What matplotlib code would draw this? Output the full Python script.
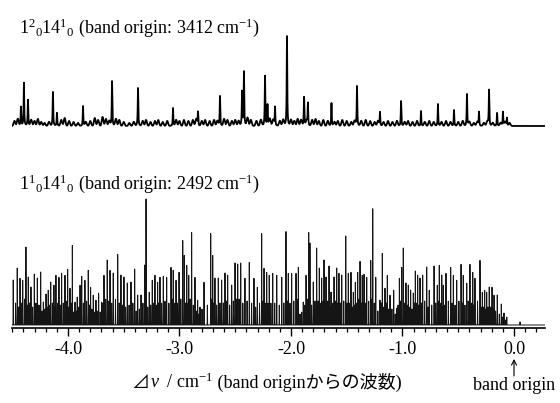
import numpy as np
import matplotlib
matplotlib.use('Agg')
import matplotlib.pyplot as plt

plt.rcParams['font.family'] = ['Liberation Serif', 'Noto Sans CJK JP', 'DejaVu Sans']
plt.rcParams['mathtext.fontset'] = 'custom'
plt.rcParams['mathtext.rm'] = 'Liberation Serif'
plt.rcParams['mathtext.it'] = 'Liberation Serif:italic'
plt.rcParams['axes.unicode_minus'] = False

# ---------------- data ----------------
upper_title = r"$\mathregular{1^{2}{}_{0}14^{1}{}_{0}}$ (band origin: 3412 cm$^{\mathregular{-1}}$)"
lower_title = r"$\mathregular{1^{1}{}_{0}14^{1}{}_{0}}$ (band origin: 2492 cm$^{\mathregular{-1}}$)"

tick_values = [-4.0, -3.0, -2.0, -1.0, 0.0]
tick_labels = ['-4.0', '-3.0', '-2.0', '-1.0', '0.0']

# upper spectrum (1^2_0 14^1_0): sharp lines
upper_pos = [-4.422, -4.395, -4.359, -4.135, -4.099, -3.865, -3.605, -3.372, -3.058,
             -2.834, -2.637, -2.439, -2.422, -2.233, -2.211, -2.143, -2.036, -1.883,
             -1.848, -1.637, -1.408, -1.202, -1.013, -0.834, -0.682, -0.538, -0.422,
             -0.314, -0.224, -0.152, -0.099, -0.063]
upper_int = [19, 43, 26, 34, 13, 20, 45, 38, 18,
             14, 30, 34, 54, 50, 21, 19, 90, 29,
             22, 23, 40, 14, 25, 15, 22, 16, 32,
             14, 36, 13, 14, 8]
# upper spectrum: weak background structure
upper_bg_pos = [-4.48, -4.45, -4.33, -4.30, -4.27, -4.24, -4.21, -4.17, -4.06, -4.03,
                -3.99, -3.95, -3.91, -3.84, -3.80, -3.76, -3.73, -3.69, -3.66, -3.63,
                -3.57, -3.54, -3.50, -3.45, -3.41, -3.33, -3.30, -3.26, -3.22, -3.19,
                -3.15, -3.11, -3.03, -3.00, -2.96, -2.92, -2.88, -2.85, -2.80, -2.77,
                -2.73, -2.69, -2.66, -2.60, -2.57, -2.53, -2.50, -2.47, -2.39, -2.36,
                -2.31, -2.27, -2.19, -2.16, -2.10, -2.07, -2.00, -1.97, -1.94, -1.91,
                -1.86, -1.81, -1.78, -1.75, -1.71, -1.67, -1.61, -1.58, -1.54, -1.50,
                -1.46, -1.43, -1.37, -1.33, -1.29, -1.25, -1.22, -1.17, -1.13, -1.09,
                -1.05, -0.98, -0.95, -0.91, -0.87, -0.80, -0.76, -0.72, -0.65, -0.61,
                -0.57, -0.50, -0.46, -0.40, -0.36, -0.33, -0.27, -0.24, -0.19, -0.12,
                -0.08, -0.04]
upper_bg_int = [5, 7, 6, 5, 7, 4, 3, 4, 6, 8,
                5, 4, 3, 4, 5, 8, 6, 9, 7, 5,
                7, 6, 4, 3, 4, 5, 6, 4, 5, 6,
                4, 5, 6, 5, 6, 5, 6, 7, 5, 6,
                5, 6, 5, 7, 6, 5, 6, 5, 8, 6,
                5, 6, 7, 6, 5, 6, 6, 5, 7, 6,
                5, 6, 7, 5, 6, 5, 4, 5, 6, 5,
                4, 5, 5, 6, 5, 4, 5, 4, 5, 4,
                5, 4, 5, 4, 5, 4, 5, 4, 4, 5,
                4, 4, 5, 4, 3, 4, 3, 4, 3, 3,
                4, 3]

# lower spectrum (1^1_0 14^1_0): strong lines
lower_pos = [-4.491, -4.455, -4.430, -4.406, -4.377, -4.356, -4.332, -4.302, -4.275, -4.245,
             -4.221, -4.197, -4.177, -4.155, -4.126, -4.108, -4.081, -4.057, -4.027, -4.003,
             -3.982, -3.961, -3.937, -3.917, -3.892, -3.877, -3.848, -3.818, -3.797, -3.773,
             -3.749, -3.725, -3.698, -3.677, -3.648, -3.623, -3.594, -3.554, -3.525, -3.498,
             -3.468, -3.435, -3.402, -3.375, -3.345, -3.312, -3.300, -3.271, -3.244, -3.220,
             -3.196, -3.175, -3.145, -3.115, -3.076, -3.056, -3.031, -3.004, -2.971, -2.957,
             -2.935, -2.917, -2.891, -2.861, -2.837, -2.816, -2.780, -2.720, -2.702, -2.682,
             -2.652, -2.622, -2.592, -2.568, -2.532, -2.502, -2.478, -2.451, -2.413, -2.374,
             -2.332, -2.302, -2.263, -2.242, -2.218, -2.195, -2.164, -2.128, -2.083, -2.045,
             -2.024, -1.994, -1.955, -1.934, -1.904, -1.890, -1.865, -1.841, -1.830, -1.800,
             -1.770, -1.746, -1.725, -1.704, -1.686, -1.659, -1.641, -1.614, -1.590, -1.570,
             -1.545, -1.509, -1.486, -1.462, -1.441, -1.423, -1.402, -1.381, -1.361, -1.345,
             -1.321, -1.285, -1.267, -1.240, -1.202, -1.181, -1.157, -1.136, -1.112, -1.079,
             -1.052, -1.028, -1.007, -0.993, -0.969, -0.948, -0.927, -0.903, -0.885, -0.864,
             -0.843, -0.819, -0.783, -0.760, -0.717, -0.688, -0.670, -0.648, -0.634, -0.610,
             -0.568, -0.544, -0.514, -0.475, -0.455, -0.424, -0.395, -0.370, -0.350, -0.305,
             -0.284, -0.263, -0.245, -0.222, -0.197, -0.179, -0.150, -0.114, -0.090, -0.065,
             0.054]
lower_int = [45, 57, 47, 45, 78, 48, 38, 51, 47, 53,
             23, 31, 35, 43, 40, 50, 48, 52, 50, 56,
             37, 80, 23, 28, 40, 49, 45, 55, 38, 30,
             25, 32, 23, 50, 65, 55, 52, 71, 50, 48,
             42, 43, 56, 30, 30, 60, 126, 33, 45, 50,
             43, 48, 49, 48, 58, 55, 45, 53, 85, 70,
             60, 50, 93, 48, 25, 18, 43, 92, 70, 47,
             47, 45, 52, 50, 40, 62, 61, 62, 47, 63,
             47, 38, 92, 57, 53, 50, 52, 50, 48, 94,
             52, 52, 52, 58, 13, 23, 50, 93, 82, 43,
             77, 57, 47, 65, 48, 59, 33, 48, 57, 52,
             50, 89, 52, 53, 33, 43, 53, 64, 50, 51,
             48, 65, 117, 48, 25, 72, 37, 50, 30, 35,
             17, 47, 58, 77, 42, 40, 35, 32, 54, 50,
             47, 50, 58, 35, 59, 40, 60, 50, 40, 52,
             58, 50, 45, 61, 50, 42, 61, 53, 47, 65,
             33, 35, 33, 38, 38, 30, 30, 21, 12, 8,
             3]
# lower spectrum: weaker lines filling the dense band
lower_weak_pos = [-4.470, -4.443, -4.418, -4.390, -4.366, -4.344, -4.317, -4.288, -4.260, -4.233,
                  -4.209, -4.187, -4.166, -4.140, -4.117, -4.094, -4.069, -4.042, -4.015, -3.992,
                  -3.972, -3.949, -3.927, -3.904, -3.862, -3.833, -3.807, -3.785, -3.761, -3.737,
                  -3.711, -3.688, -3.662, -3.636, -3.608, -3.574, -3.540, -3.511, -3.483, -3.452,
                  -3.418, -3.388, -3.360, -3.328, -3.285, -3.258, -3.232, -3.208, -3.186, -3.160,
                  -3.130, -3.095, -3.066, -3.043, -3.018, -2.988, -2.946, -2.926, -2.904, -2.876,
                  -2.849, -2.826, -2.798, -2.750, -2.711, -2.692, -2.667, -2.637, -2.607, -2.580,
                  -2.550, -2.517, -2.490, -2.465, -2.432, -2.394, -2.353, -2.317, -2.282, -2.252,
                  -2.230, -2.206, -2.180, -2.146, -2.105, -2.064, -2.034, -2.009, -1.975, -1.945,
                  -1.919, -1.877, -1.853, -1.815, -1.785, -1.758, -1.736, -1.714, -1.695, -1.672,
                  -1.650, -1.627, -1.602, -1.580, -1.557, -1.527, -1.497, -1.474, -1.452, -1.432,
                  -1.412, -1.391, -1.371, -1.353, -1.333, -1.303, -1.276, -1.253, -1.221, -1.191,
                  -1.169, -1.146, -1.124, -1.095, -1.065, -1.040, -1.017, -0.980, -0.958, -0.937,
                  -0.915, -0.894, -0.874, -0.853, -0.831, -0.801, -0.771, -0.738, -0.702, -0.679,
                  -0.659, -0.641, -0.622, -0.589, -0.556, -0.529, -0.494, -0.465, -0.440, -0.410,
                  -0.382, -0.360, -0.327, -0.295, -0.273, -0.254, -0.234, -0.210, -0.188, -0.165,
                  -0.132, -0.102, -0.078]
lower_weak_int = [22, 18, 22, 26, 20, 22, 18, 22, 20, 14,
                  16, 18, 20, 22, 18, 22, 20, 22, 24, 18,
                  22, 13, 14, 18, 22, 24, 20, 16, 13, 14,
                  13, 22, 26, 24, 22, 26, 22, 20, 18, 20,
                  22, 14, 16, 22, 18, 20, 22, 20, 22, 22,
                  24, 22, 26, 22, 22, 26, 22, 22, 26, 20,
                  14, 11, 16, 20, 26, 22, 20, 22, 22, 24,
                  20, 24, 26, 26, 22, 24, 22, 18, 22, 24,
                  22, 22, 22, 22, 20, 22, 24, 22, 24, 26,
                  11, 20, 26, 20, 24, 24, 22, 24, 22, 24,
                  18, 22, 24, 22, 22, 24, 22, 22, 18, 20,
                  22, 26, 22, 22, 22, 24, 26, 22, 14, 22,
                  18, 22, 16, 16, 11, 20, 24, 22, 20, 18,
                  16, 22, 22, 20, 22, 24, 18, 20, 22, 24,
                  22, 18, 20, 24, 22, 20, 24, 22, 20, 24,
                  22, 20, 24, 18, 18, 16, 18, 18, 16, 14,
                  11, 8, 5]

UPPER_OFFSET = 202
LOWER_OFFSET = 3

# ---------------- build traces ----------------
x = np.arange(-4.50, 0.30, 0.0003)
upper = np.full_like(x, UPPER_OFFSET, dtype=float)
for p, h in zip(upper_pos, upper_int):
    g = 0.0028
    upper += h * g**2 / ((x - p)**2 + g**2)
for p, h in zip(upper_bg_pos, upper_bg_int):
    upper += h * np.exp(-0.5 * ((x - p) / 0.0075)**2)

lower = np.full_like(x, LOWER_OFFSET, dtype=float)
for p, h in zip(list(lower_pos) + list(lower_weak_pos), list(lower_int) + list(lower_weak_int)):
    lower += h * np.exp(-0.5 * ((x - p) / 0.0009)**2)

# ---------------- figure ----------------
fig = plt.figure(figsize=(5.6, 4.03), dpi=100)
ax = fig.add_axes([12/560, 75/403, 533/560, 328/403])

ax.plot(x, upper, color='black', lw=1.3, solid_joinstyle='round')
ax.plot(x, lower, color='#151515', lw=0.7)

ax.set_xlim(-4.502, 0.278)
ax.set_ylim(0, 328)

for s in ['left', 'right', 'top']:
    ax.spines[s].set_visible(False)
ax.spines['bottom'].set_linewidth(1.2)
ax.set_yticks([])
ax.set_xticks(tick_values, labels=tick_labels)
ax.set_xticks(np.arange(-4.5, 0.29, 0.1), minor=True)
ax.tick_params(axis='x', which='major', direction='out', length=5.5, width=1.0,
               labelsize=13, pad=4)
ax.tick_params(axis='x', which='minor', direction='out', length=3, width=0.9)

ax.text(-4.44, 295, upper_title, fontsize=13, ha='left', va='baseline')
ax.text(-4.44, 139, lower_title, fontsize=13, ha='left', va='baseline')

# x label assembled from pieces sharing one baseline
YLAB = -60
t1 = ax.text(-3.43, YLAB, "⊿", fontsize=13, ha='left', va='baseline')
t2 = ax.annotate(r"$\nu$  / cm$^{\mathregular{-1}}$", xy=(1, YLAB), xycoords=(t1, 'data'),
                 fontsize=13, ha='left', va='baseline', annotation_clip=False)
t3 = ax.annotate(" (band originからの波数)", xy=(1, YLAB), xycoords=(t2, 'data'),
                 fontsize=13, ha='left', va='baseline', annotation_clip=False)

# arrow pointing at the band origin label
ax.annotate("", xy=(0.0, -31), xytext=(0.0, -48), annotation_clip=False,
            arrowprops=dict(arrowstyle='->, head_length=0.35, head_width=0.18',
                            lw=0.8, color='black', shrinkA=0, shrinkB=0))
ax.text(0.0, -62, "band origin", fontsize=13, ha='center', va='baseline')

fig.savefig('out.png', dpi=100)
